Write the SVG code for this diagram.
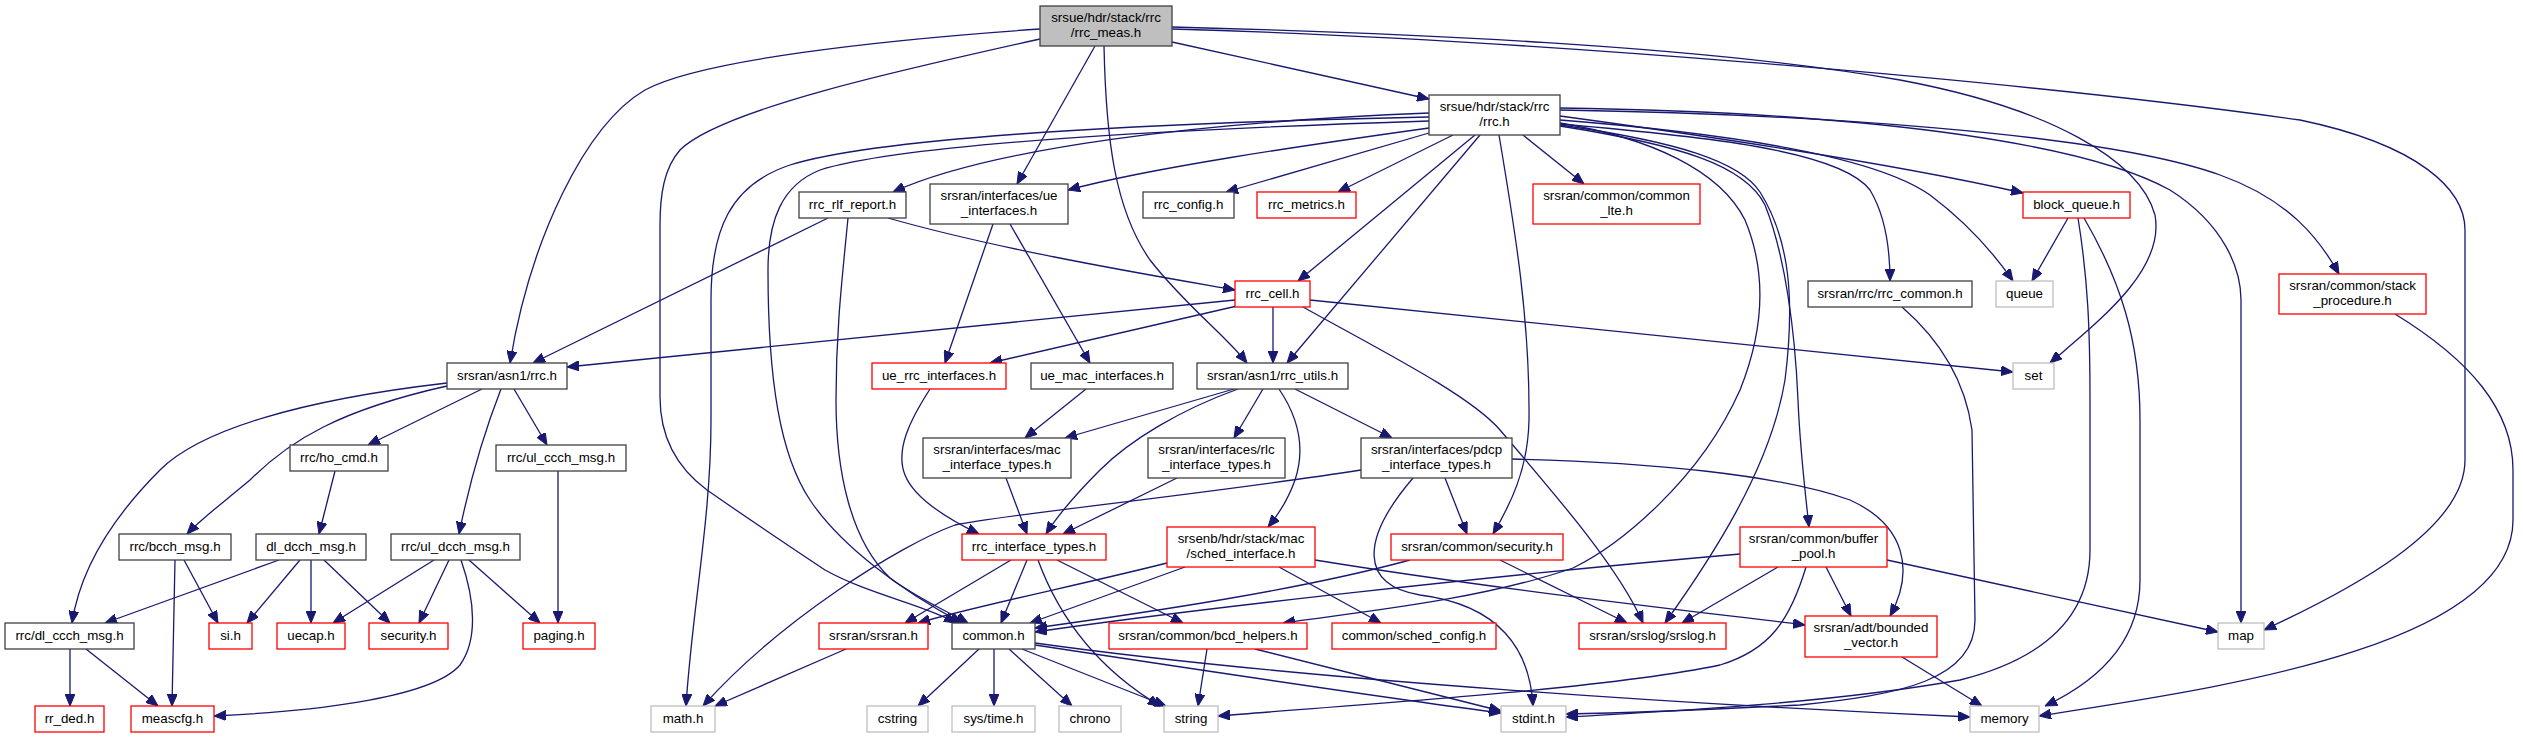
<svg xmlns="http://www.w3.org/2000/svg" width="2523" height="737" viewBox="0 0 2523 737">
<style>
rect{fill:#fff;stroke-width:1.3}
.k rect{stroke:#404040}
.r rect{stroke:#ff0000}
.g rect{stroke:#bfbfbf}
.root rect{fill:#bfbfbf;stroke:#404040}
text{font-family:"Liberation Sans",Arial,sans-serif;font-size:13.33px;text-anchor:middle;fill:#000}
#edges path{fill:none;stroke:#191970;stroke-width:1.3;marker-end:url(#a)}
</style>
<defs>
<marker id="a" markerWidth="12" markerHeight="10" refX="12" refY="5" orient="auto" markerUnits="userSpaceOnUse"><path d="M0,0 L12,5 L0,10 z" fill="#191970" stroke="#191970"/></marker>
</defs>
<rect x="0" y="0" width="2523" height="737" style="fill:#fff;stroke:none"/>
<g id="edges">
<path d="M1040,29 C880,40 700,60 645,90 C585,125 530,240 510,363"/>
<path d="M1040,39 C900,70 720,110 680,150 C664,168 660,195 660,225 L660,397 C660,440 680,470 707,490 C750,520 795,550 825,570 C870,595 925,605 956,623"/>
<path d="M1095,46 L1017,184"/>
<path d="M1104,46 C1106,140 1115,210 1150,260 C1185,305 1225,335 1247,363"/>
<path d="M1172,42 L1429,99"/>
<path d="M1172,27 C1400,33 1700,45 1900,80 C2050,108 2140,160 2155,215 C2165,270 2100,320 2050,363"/>
<path d="M1172,29 C1500,38 2000,78 2300,120 C2420,145 2465,190 2465,230 L2465,460 C2465,530 2350,590 2264,630"/>
<path d="M1429,113 C1200,122 990,148 893,192"/>
<path d="M1429,128 C1300,146 1150,168 1068,190"/>
<path d="M1429,133 L1226,192"/>
<path d="M1453,135 L1338,192"/>
<path d="M1523,135 L1584,184"/>
<path d="M1475,135 L1298,281"/>
<path d="M1480,135 L1287,363"/>
<path d="M1499,135 C1515,230 1530,320 1529,420 C1528,470 1510,505 1493,534"/>
<path d="M1429,117 C1100,124 870,140 790,165 C730,185 711,230 711,300 L711,420 C711,520 692,610 686,706"/>
<path d="M1429,121 C1150,130 900,145 820,170 C782,185 768,220 768,270 C768,380 780,455 810,500 C840,545 900,590 962,623"/>
<path d="M848,218 C842,280 836,330 836,400 C836,470 850,540 890,578 C920,600 945,610 968,623"/>
<path d="M828,218 L533,363"/>
<path d="M888,218 C1000,250 1150,275 1235,290"/>
<path d="M1560,116 C1700,135 1900,165 2023,193"/>
<path d="M1560,120 C1750,135 1880,160 1930,195 C1970,225 1995,255 2013,281"/>
<path d="M1560,124 C1700,136 1840,150 1870,190 C1885,215 1890,250 1890,281"/>
<path d="M1560,110 C1800,114 2100,132 2220,175 C2290,200 2320,240 2339,274"/>
<path d="M1560,108 C1850,112 2080,140 2170,190 C2225,225 2241,270 2241,300 L2241,623"/>
<path d="M1560,126 C1680,145 1745,165 1765,205 C1785,255 1795,330 1798,400 C1800,450 1805,490 1809,527"/>
<path d="M1560,125 C1680,142 1740,162 1760,192 C1790,240 1795,300 1785,380 C1770,470 1710,560 1665,623"/>
<path d="M1560,123 C1650,138 1720,170 1745,220 C1770,280 1760,340 1740,390 C1700,480 1620,545 1573,568 C1480,600 1360,612 1283,623"/>
<path d="M1235,300 L567,367"/>
<path d="M1237,306 L990,363"/>
<path d="M1273,307 L1273,363"/>
<path d="M1303,307 C1380,350 1470,395 1500,430 C1560,500 1620,570 1643,623"/>
<path d="M1310,300 C1600,330 1850,355 2013,372"/>
<path d="M993,224 L945,363"/>
<path d="M1010,224 L1090,363"/>
<path d="M930,389 C910,420 895,450 905,475 C915,500 950,520 979,534"/>
<path d="M1086,389 L1025,438"/>
<path d="M1234,389 L1065,438"/>
<path d="M1238,389 C1180,410 1130,440 1100,470 C1075,495 1058,515 1046,534"/>
<path d="M1263,389 L1234,438"/>
<path d="M1279,389 C1300,420 1305,450 1295,480 C1288,500 1278,515 1268,527"/>
<path d="M1295,389 L1392,438"/>
<path d="M1006,478 L1027,534"/>
<path d="M1177,478 L1063,534"/>
<path d="M1361,470 C1200,495 1000,515 955,525 C900,545 780,620 703,706"/>
<path d="M1445,478 L1467,534"/>
<path d="M1413,478 C1360,540 1360,585 1420,595 C1500,605 1530,650 1533,706"/>
<path d="M1512,459 C1650,462 1780,475 1850,500 C1905,525 1915,570 1890,616"/>
<path d="M1011,560 L905,623"/>
<path d="M1027,560 L1001,623"/>
<path d="M1038,560 C1060,620 1100,670 1160,706"/>
<path d="M1057,560 L1183,623"/>
<path d="M1167,563 C1080,585 980,605 918,623"/>
<path d="M1185,567 L1030,623"/>
<path d="M1279,567 L1381,623"/>
<path d="M1315,560 C1500,590 1700,612 1805,625"/>
<path d="M1410,560 C1300,590 1150,612 1035,628"/>
<path d="M1500,560 L1627,623"/>
<path d="M1740,554 C1500,575 1200,608 1035,632"/>
<path d="M1778,567 L1682,623"/>
<path d="M1826,567 L1851,616"/>
<path d="M1887,560 L2218,632"/>
<path d="M1806,567 C1790,620 1770,650 1720,665 C1600,690 1350,705 1218,716"/>
<path d="M1902,657 L1982,706"/>
<path d="M2068,218 L2032,281"/>
<path d="M2078,218 C2088,280 2090,330 2090,400 L2090,550 C2090,620 2040,660 1960,680 C1820,705 1650,712 1566,717"/>
<path d="M2084,218 C2120,280 2140,340 2140,420 L2140,580 C2140,640 2100,680 2045,706"/>
<path d="M1902,307 C1940,340 1965,380 1972,430 L1975,620 C1975,680 1900,695 1800,705 C1700,710 1620,713 1566,714"/>
<path d="M2395,314 C2470,360 2513,410 2513,470 L2513,520 C2513,650 2200,690 2039,716"/>
<path d="M979,649 L918,706"/>
<path d="M994,649 L994,706"/>
<path d="M1009,649 L1072,706"/>
<path d="M1022,649 L1166,706"/>
<path d="M1035,645 C1200,670 1400,700 1501,713"/>
<path d="M1035,643 C1300,680 1700,705 1970,717"/>
<path d="M1207,649 L1198,706"/>
<path d="M1255,649 L1501,711"/>
<path d="M846,649 L715,706"/>
<path d="M447,383 C300,400 200,430 160,470 C110,520 80,570 72,623"/>
<path d="M447,386 C340,410 290,440 250,480 C220,505 200,520 187,534"/>
<path d="M482,389 L368,445"/>
<path d="M501,389 C485,430 470,480 459,534"/>
<path d="M514,389 L547,445"/>
<path d="M335,471 L319,534"/>
<path d="M558,471 L558,623"/>
<path d="M184,560 L218,623"/>
<path d="M175,560 L172,706"/>
<path d="M279,560 L105,623"/>
<path d="M300,560 L247,623"/>
<path d="M311,560 L311,623"/>
<path d="M324,560 L390,623"/>
<path d="M434,560 L333,623"/>
<path d="M449,560 L419,623"/>
<path d="M469,560 L540,623"/>
<path d="M461,560 C475,600 478,640 460,665 C430,700 300,712 214,716"/>
<path d="M70,649 L70,706"/>
<path d="M86,649 L158,706"/>
</g>
<g id="n_rrc_meas" class="root"><rect x="1040" y="6" width="132" height="40"/><text x="1106" y="22">srsue/hdr/stack/rrc</text><text x="1106" y="37">/rrc_meas.h</text></g>
<g id="n_rrc_h" class="k"><rect x="1429" y="95" width="131" height="40"/><text x="1494.5" y="111">srsue/hdr/stack/rrc</text><text x="1494.5" y="126">/rrc.h</text></g>
<g id="n_asn1_rrc" class="k"><rect x="447" y="363" width="120" height="26"/><text x="507" y="380">srsran/asn1/rrc.h</text></g>
<g id="n_rlf_report" class="k"><rect x="799" y="192" width="107" height="26"/><text x="852.5" y="209">rrc_rlf_report.h</text></g>
<g id="n_ue_interfaces" class="k"><rect x="930" y="184" width="138" height="40"/><text x="999" y="200">srsran/interfaces/ue</text><text x="999" y="215">_interfaces.h</text></g>
<g id="n_rrc_config" class="k"><rect x="1143" y="192" width="91" height="26"/><text x="1188.5" y="209">rrc_config.h</text></g>
<g id="n_rrc_metrics" class="r"><rect x="1257" y="192" width="99" height="26"/><text x="1306.5" y="209">rrc_metrics.h</text></g>
<g id="n_common_lte" class="r"><rect x="1533" y="184" width="167" height="40"/><text x="1616.5" y="200">srsran/common/common</text><text x="1616.5" y="215">_lte.h</text></g>
<g id="n_block_queue" class="r"><rect x="2023" y="192" width="107" height="26"/><text x="2076.5" y="209">block_queue.h</text></g>
<g id="n_stack_procedure" class="r"><rect x="2279" y="274" width="147" height="40"/><text x="2352.5" y="290">srsran/common/stack</text><text x="2352.5" y="305">_procedure.h</text></g>
<g id="n_rrc_cell" class="r"><rect x="1235" y="281" width="75" height="26"/><text x="1272.5" y="298">rrc_cell.h</text></g>
<g id="n_rrc_common" class="k"><rect x="1808" y="281" width="164" height="26"/><text x="1890" y="298">srsran/rrc/rrc_common.h</text></g>
<g id="n_queue" class="g"><rect x="1996" y="281" width="57" height="26"/><text x="2024.5" y="298">queue</text></g>
<g id="n_ue_rrc_interfaces" class="r"><rect x="872" y="363" width="134" height="26"/><text x="939" y="380">ue_rrc_interfaces.h</text></g>
<g id="n_ue_mac_interfaces" class="k"><rect x="1031" y="363" width="142" height="26"/><text x="1102" y="380">ue_mac_interfaces.h</text></g>
<g id="n_rrc_utils" class="k"><rect x="1197" y="363" width="151" height="26"/><text x="1272.5" y="380">srsran/asn1/rrc_utils.h</text></g>
<g id="n_set" class="g"><rect x="2013" y="363" width="41" height="26"/><text x="2033.5" y="380">set</text></g>
<g id="n_ho_cmd" class="k"><rect x="290" y="445" width="98" height="26"/><text x="339" y="462">rrc/ho_cmd.h</text></g>
<g id="n_ul_ccch_msg" class="k"><rect x="496" y="445" width="130" height="26"/><text x="561" y="462">rrc/ul_ccch_msg.h</text></g>
<g id="n_mac_interface_types" class="k"><rect x="923" y="438" width="148" height="40"/><text x="997" y="454">srsran/interfaces/mac</text><text x="997" y="469">_interface_types.h</text></g>
<g id="n_rlc_interface_types" class="k"><rect x="1148" y="438" width="137" height="40"/><text x="1216.5" y="454">srsran/interfaces/rlc</text><text x="1216.5" y="469">_interface_types.h</text></g>
<g id="n_pdcp_interface_types" class="k"><rect x="1361" y="438" width="151" height="40"/><text x="1436.5" y="454">srsran/interfaces/pdcp</text><text x="1436.5" y="469">_interface_types.h</text></g>
<g id="n_bcch_msg" class="k"><rect x="119" y="534" width="112" height="26"/><text x="175" y="551">rrc/bcch_msg.h</text></g>
<g id="n_dl_dcch_msg" class="k"><rect x="256" y="534" width="110" height="26"/><text x="311" y="551">dl_dcch_msg.h</text></g>
<g id="n_ul_dcch_msg" class="k"><rect x="391" y="534" width="129" height="26"/><text x="455.5" y="551">rrc/ul_dcch_msg.h</text></g>
<g id="n_rrc_interface_types" class="r"><rect x="962" y="534" width="144" height="26"/><text x="1034" y="551">rrc_interface_types.h</text></g>
<g id="n_sched_interface" class="r"><rect x="1167" y="527" width="148" height="40"/><text x="1241" y="543">srsenb/hdr/stack/mac</text><text x="1241" y="558">/sched_interface.h</text></g>
<g id="n_security_common" class="r"><rect x="1391" y="534" width="172" height="26"/><text x="1477" y="551">srsran/common/security.h</text></g>
<g id="n_buffer_pool" class="r"><rect x="1740" y="527" width="147" height="40"/><text x="1813.5" y="543">srsran/common/buffer</text><text x="1813.5" y="558">_pool.h</text></g>
<g id="n_dl_ccch_msg" class="k"><rect x="5" y="623" width="129" height="26"/><text x="69.5" y="640">rrc/dl_ccch_msg.h</text></g>
<g id="n_si" class="r"><rect x="209" y="623" width="43" height="26"/><text x="230.5" y="640">si.h</text></g>
<g id="n_uecap" class="r"><rect x="277" y="623" width="68" height="26"/><text x="311" y="640">uecap.h</text></g>
<g id="n_security" class="r"><rect x="369" y="623" width="79" height="26"/><text x="408.5" y="640">security.h</text></g>
<g id="n_paging" class="r"><rect x="523" y="623" width="72" height="26"/><text x="559" y="640">paging.h</text></g>
<g id="n_srsran" class="r"><rect x="819" y="623" width="109" height="26"/><text x="873.5" y="640">srsran/srsran.h</text></g>
<g id="n_common" class="k"><rect x="952" y="623" width="83" height="26"/><text x="993.5" y="640">common.h</text></g>
<g id="n_bcd_helpers" class="r"><rect x="1109" y="623" width="198" height="26"/><text x="1208" y="640">srsran/common/bcd_helpers.h</text></g>
<g id="n_sched_config" class="r"><rect x="1332" y="623" width="164" height="26"/><text x="1414" y="640">common/sched_config.h</text></g>
<g id="n_srslog" class="r"><rect x="1579" y="623" width="147" height="26"/><text x="1652.5" y="640">srsran/srslog/srslog.h</text></g>
<g id="n_bounded_vector" class="r"><rect x="1805" y="616" width="132" height="41"/><text x="1871" y="632">srsran/adt/bounded</text><text x="1871" y="647">_vector.h</text></g>
<g id="n_map" class="g"><rect x="2218" y="623" width="46" height="26"/><text x="2241" y="640">map</text></g>
<g id="n_rr_ded" class="r"><rect x="35" y="706" width="69" height="26"/><text x="69.5" y="723">rr_ded.h</text></g>
<g id="n_meascfg" class="r"><rect x="131" y="706" width="83" height="26"/><text x="172.5" y="723">meascfg.h</text></g>
<g id="n_math" class="g"><rect x="651" y="706" width="64" height="26"/><text x="683" y="723">math.h</text></g>
<g id="n_cstring" class="g"><rect x="867" y="706" width="61" height="26"/><text x="897.5" y="723">cstring</text></g>
<g id="n_systime" class="g"><rect x="952" y="706" width="83" height="26"/><text x="993.5" y="723">sys/time.h</text></g>
<g id="n_chrono" class="g"><rect x="1059" y="706" width="62" height="26"/><text x="1090" y="723">chrono</text></g>
<g id="n_string" class="g"><rect x="1164" y="706" width="54" height="26"/><text x="1191" y="723">string</text></g>
<g id="n_stdint" class="g"><rect x="1501" y="706" width="65" height="26"/><text x="1533.5" y="723">stdint.h</text></g>
<g id="n_memory" class="g"><rect x="1970" y="706" width="69" height="26"/><text x="2004.5" y="723">memory</text></g>
</svg>
